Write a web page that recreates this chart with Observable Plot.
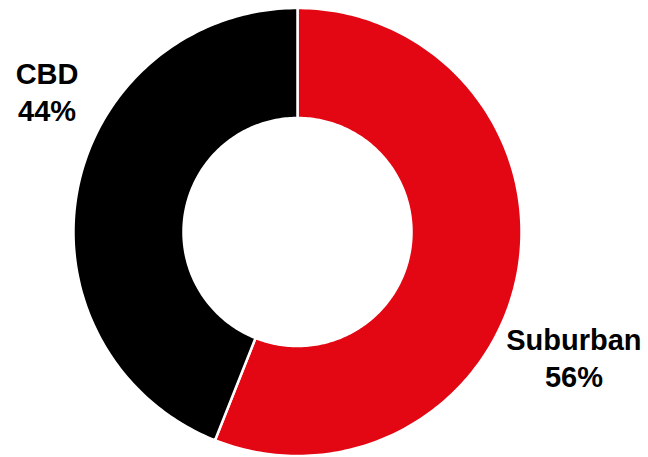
<!DOCTYPE html>
<html>
<head>
<meta charset="utf-8">
<script src="https://cdn.jsdelivr.net/npm/d3@7"></script>
<script src="https://cdn.jsdelivr.net/npm/@observablehq/plot@0.6"></script>
<style>
  html, body { margin: 0; padding: 0; background: #fff; }
  #chart { width: 648px; height: 457px; }
</style>
</head>
<body>
<div id="chart"></div>
<script>
// Data
const categories = ["Suburban", "CBD"];
const shares = [56, 44];
const colors = ["#E30613", "#000000"];
const labelText = ["Suburban\n56%", "CBD\n44%"];
const labelX = [1.234, -1.118];
const labelY = [-0.557, 0.631];

const innerRatio = 0.509;

// Build slice outlines from the data angles
const total = d3.sum(shares);
const slices = [];
let start = 0;
categories.forEach((name, i) => {
  const a0 = start / total * 2 * Math.PI;
  const a1 = (start + shares[i]) / total * 2 * Math.PI;
  start += shares[i];
  const n = Math.max(8, Math.ceil((a1 - a0) / (Math.PI / 180)));
  const pts = [];
  for (let k = 0; k <= n; k++) {
    const a = a0 + (a1 - a0) * k / n;
    pts.push({name, x: Math.sin(a), y: Math.cos(a)});
  }
  for (let k = n; k >= 0; k--) {
    const a = a0 + (a1 - a0) * k / n;
    pts.push({name, x: innerRatio * Math.sin(a), y: innerRatio * Math.cos(a)});
  }
  slices.push(...pts);
});

const labels = categories.map((c, i) => ({name: c, text: labelText[i], x: labelX[i], y: labelY[i]}));

const chart = Plot.plot({
  width: 648,
  height: 457,
  marginLeft: 73,
  marginRight: 127,
  marginTop: 7.5,
  marginBottom: 1.5,
  x: {domain: [-1, 1], axis: null},
  y: {domain: [-1, 1], axis: null},
  color: {domain: categories, range: colors},
  style: {background: "#fff", fontFamily: "'Liberation Sans', Arial, sans-serif"},
  marks: [
    Plot.line(slices, {x: "x", y: "y", z: "name", fill: "name", stroke: "#fff", strokeWidth: 2.5, curve: "linear-closed"}),
    Plot.text(labels, {x: "x", y: "y", text: "text", fontSize: 29, fontWeight: "bold", fill: "#000", textAnchor: "middle", lineAnchor: "middle", lineHeight: 1.27})
  ]
});
document.getElementById("chart").appendChild(chart);
</script>
</body>
</html>
